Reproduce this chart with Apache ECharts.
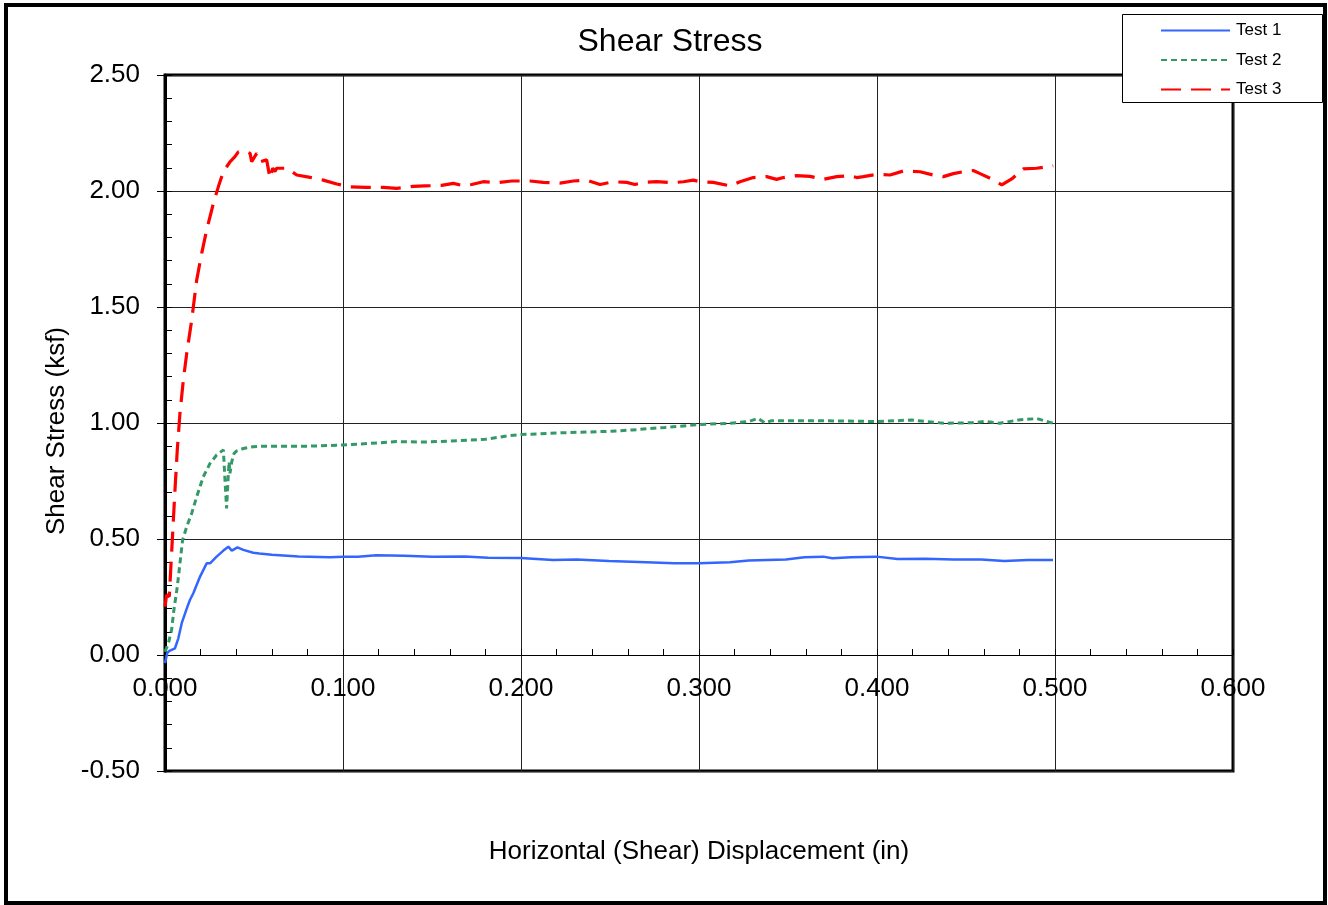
<!DOCTYPE html>
<html>
<head>
<meta charset="utf-8">
<script src="https://cdn.jsdelivr.net/npm/echarts/dist/echarts.min.js"></script>
<style>html,body{margin:0;padding:0;background:#fff;}#chart{width:1328px;height:905px;}</style>
</head>
<body>
<div id="chart"></div>
<script>
// ---- Data ----
const test1X = [0, 0.0013, 0.0028, 0.0056, 0.0075, 0.0094, 0.0122, 0.014, 0.0159, 0.0197, 0.0234, 0.0253, 0.029, 0.0328, 0.0356, 0.0375, 0.0407, 0.044, 0.0496, 0.053, 0.06, 0.075, 0.0927, 0.1, 0.1084, 0.1188, 0.1345, 0.1502, 0.1685, 0.1815, 0.1998, 0.2181, 0.2312, 0.2494, 0.2704, 0.286, 0.2999, 0.3174, 0.3279, 0.3488, 0.3592, 0.3697, 0.3749, 0.3854, 0.3997, 0.4115, 0.4271, 0.4428, 0.4585, 0.4716, 0.4847, 0.4989];
const test1Y = [-0.035, 0.01, 0.019, 0.029, 0.072, 0.137, 0.2, 0.237, 0.266, 0.338, 0.395, 0.395, 0.424, 0.45, 0.467, 0.45, 0.464, 0.453, 0.441, 0.438, 0.432, 0.425, 0.421, 0.424, 0.424, 0.43, 0.428, 0.424, 0.425, 0.419, 0.418, 0.409, 0.412, 0.405, 0.4, 0.395, 0.395, 0.4, 0.407, 0.412, 0.421, 0.424, 0.417, 0.421, 0.424, 0.414, 0.415, 0.412, 0.412, 0.405, 0.409, 0.409];

const test2X = [0, 0.0019, 0.0037, 0.005, 0.0069, 0.0084, 0.0099, 0.0122, 0.015, 0.0178, 0.0215, 0.0253, 0.029, 0.0328, 0.0337, 0.0346, 0.0356, 0.036, 0.0365, 0.0375, 0.0388, 0.0403, 0.044, 0.0496, 0.0534, 0.065, 0.08, 0.1, 0.115, 0.13, 0.145, 0.16, 0.18, 0.192, 0.1998, 0.2234, 0.2494, 0.2625, 0.2808, 0.3, 0.3174, 0.3279, 0.3331, 0.337, 0.341, 0.3801, 0.3997, 0.4115, 0.4193, 0.4271, 0.4376, 0.4533, 0.4611, 0.469, 0.4794, 0.4899, 0.4989];
const test2Y = [0.014, 0.05, 0.108, 0.194, 0.294, 0.395, 0.496, 0.553, 0.611, 0.682, 0.768, 0.826, 0.862, 0.884, 0.754, 0.632, 0.783, 0.833, 0.783, 0.833, 0.869, 0.88, 0.89, 0.898, 0.9, 0.9, 0.9, 0.905, 0.912, 0.92, 0.918, 0.922, 0.93, 0.944, 0.95, 0.958, 0.964, 0.97, 0.981, 0.993, 0.999, 1.006, 1.02, 1.001, 1.01, 1.009, 1.006, 1.01, 1.013, 1.007, 0.999, 1.001, 1.007, 0.999, 1.013, 1.019, 0.999];

const test3X = [0, 0.0009, 0.0024, 0.0028, 0.0043, 0.0056, 0.0069, 0.0084, 0.0103, 0.0122, 0.015, 0.0178, 0.0206, 0.0234, 0.0272, 0.03, 0.0328, 0.0365, 0.0393, 0.0412, 0.044, 0.0459, 0.0478, 0.0487, 0.0515, 0.0534, 0.0571, 0.059, 0.0605, 0.0618, 0.0627, 0.0684, 0.074, 0.0815, 0.0889, 0.0965, 0.1039, 0.113, 0.1227, 0.1301, 0.1395, 0.146, 0.1554, 0.162, 0.1676, 0.1723, 0.1788, 0.1863, 0.1948, 0.2051, 0.2125, 0.2219, 0.2294, 0.2369, 0.2444, 0.2519, 0.2594, 0.264, 0.2687, 0.2762, 0.2856, 0.2912, 0.2968, 0.3006, 0.308, 0.3174, 0.323, 0.3305, 0.338, 0.3436, 0.3474, 0.3548, 0.3624, 0.3698, 0.3774, 0.3848, 0.3886, 0.3923, 0.3998, 0.4073, 0.4148, 0.4242, 0.4316, 0.4373, 0.4429, 0.4485, 0.4541, 0.4579, 0.4635, 0.4701, 0.4757, 0.4822, 0.4897, 0.499];
const test3Y = [0.208, 0.259, 0.252, 0.309, 0.524, 0.711, 0.884, 1.042, 1.185, 1.3, 1.444, 1.616, 1.731, 1.832, 1.947, 2.019, 2.083, 2.126, 2.148, 2.169, 2.169, 2.169, 2.162, 2.126, 2.162, 2.126, 2.134, 2.055, 2.098, 2.084, 2.098, 2.098, 2.069, 2.059, 2.047, 2.03, 2.018, 2.016, 2.016, 2.011, 2.02, 2.022, 2.024, 2.033, 2.023, 2.028, 2.04, 2.036, 2.043, 2.043, 2.037, 2.034, 2.043, 2.047, 2.028, 2.04, 2.037, 2.028, 2.037, 2.04, 2.036, 2.04, 2.047, 2.04, 2.037, 2.022, 2.04, 2.058, 2.062, 2.05, 2.058, 2.066, 2.063, 2.05, 2.062, 2.066, 2.058, 2.062, 2.072, 2.069, 2.086, 2.083, 2.069, 2.062, 2.075, 2.083, 2.088, 2.075, 2.055, 2.026, 2.052, 2.095, 2.098, 2.109];

const seriesNames = ['Test 1', 'Test 2', 'Test 3'];
const chartTitle = 'Shear Stress';
const xAxisName = 'Horizontal (Shear) Displacement (in)';
const yAxisName = 'Shear Stress (ksf)';

function zip(xs, ys) { return xs.map((x, i) => [x, ys[i]]); }

const FONT = 'Liberation Sans, Arial, sans-serif';
const chart = echarts.init(document.getElementById('chart'), null, { renderer: 'canvas' });

const option = {
  animation: false,
  backgroundColor: '#fff',
  textStyle: { fontFamily: FONT, color: '#000' },
  title: {
    text: chartTitle, left: 665, top: 21, textAlign: 'center',
    textStyle: { fontFamily: FONT, fontSize: 32, fontWeight: 'normal', color: '#000' }
  },
  graphic: [
    { type: 'rect', z: 0, silent: true, shape: { x: 6, y: 5, width: 1319, height: 898 },
      style: { fill: 'none', stroke: '#000', lineWidth: 4 } },
    { type: 'rect', z: 100, silent: true, shape: { x: 1122.5, y: 14.5, width: 200, height: 88 },
      style: { fill: '#fff', stroke: '#000', lineWidth: 1 } }
  ],
  legend: {
    data: seriesNames, orient: 'vertical', left: 1160, top: 22, padding: 0,
    itemWidth: 69, itemHeight: 14, itemGap: 12.5, z: 101,
    itemStyle: { opacity: 0 },
    textStyle: { fontFamily: FONT, fontSize: 17, color: '#000', padding: [0, 0, 0, 1] }
  },
  grid: {
    left: 165, top: 75, width: 1068, height: 696, outerBoundsMode: 'none', containLabel: false,
    show: true, borderColor: '#000', borderWidth: 3, backgroundColor: 'transparent'
  },
  xAxis: {
    type: 'value', min: 0, max: 0.6, interval: 0.1,
    axisLine: { show: true, onZero: true, onZeroAxisIndex: 0, lineStyle: { color: '#000', width: 1 } },
    axisTick: { show: true, inside: true, length: 6, lineStyle: { color: '#000' } },
    minorTick: { show: true, splitNumber: 5, length: 6, lineStyle: { color: '#000' } },
    axisLabel: { formatter: v => v.toFixed(3), fontFamily: FONT, fontSize: 26, color: '#000', margin: -95 },
    splitLine: { show: true, lineStyle: { color: '#222', width: 1 } },
    name: xAxisName, nameLocation: 'middle', nameGap: 68,
    nameTextStyle: { fontFamily: FONT, fontSize: 26, color: '#000' }
  },
  yAxis: [
    {
      type: 'value', min: -0.5, max: 2.5, interval: 0.5, position: 'left',
      axisLine: { show: true, onZero: false, lineStyle: { color: '#000', width: 3 } },
      axisTick: { show: true, inside: false, length: 8, lineStyle: { color: '#000' } },
      axisLabel: { formatter: v => v.toFixed(2), fontFamily: FONT, fontSize: 26, color: '#000', margin: 25 },
      splitLine: { show: true, lineStyle: { color: '#222', width: 1 } },
      name: yAxisName, nameLocation: 'middle', nameGap: 87, nameRotate: 90,
      nameTextStyle: { fontFamily: FONT, fontSize: 26, color: '#000', padding: [0, 16, 0, 0] }
    },
    {
      type: 'value', min: -0.5, max: 2.5, interval: 0.1, position: 'left',
      axisLine: { show: false, onZero: false },
      axisTick: { show: true, inside: true, length: 7, lineStyle: { color: '#000' } },
      axisLabel: { show: false },
      splitLine: { show: false }
    }
  ],
  series: [
    { name: seriesNames[0], type: 'line', yAxisIndex: 0, data: zip(test1X, test1Y), symbol: 'none', showSymbol: false,
      itemStyle: { color: '#3366FF' }, lineStyle: { color: '#3366FF', width: 2.5 }, z: 5 },
    { name: seriesNames[1], type: 'line', yAxisIndex: 0, data: zip(test2X, test2Y), symbol: 'none', showSymbol: false,
      itemStyle: { color: '#339966' }, lineStyle: { color: '#339966', width: 3, type: [6, 4] }, z: 5 },
    { name: seriesNames[2], type: 'line', yAxisIndex: 0, data: zip(test3X, test3Y), symbol: 'none', showSymbol: false,
      itemStyle: { color: '#FF0000' }, lineStyle: { color: '#FF0000', width: 3.2, type: [20, 10] }, z: 5 }
  ]
};
chart.setOption(option);
</script>
</body>
</html>
